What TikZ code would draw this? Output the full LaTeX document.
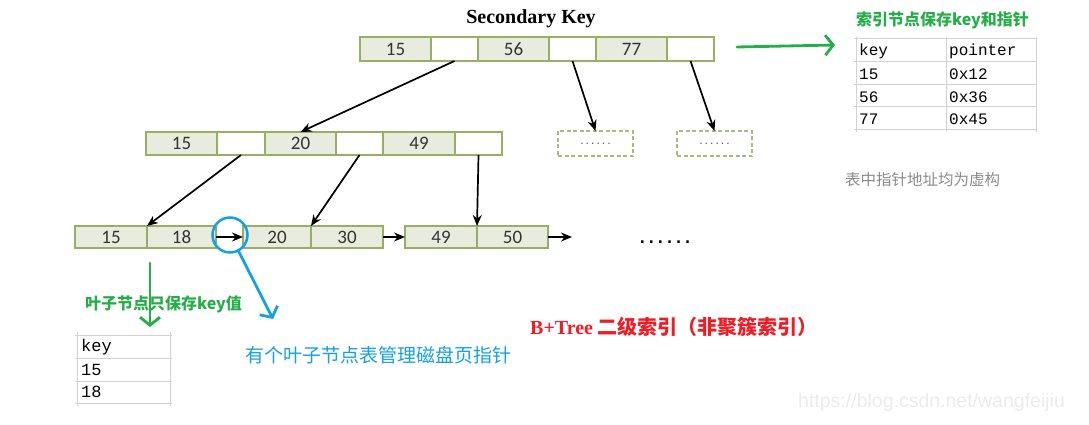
\documentclass[tikz,border=0pt]{standalone}
\usepackage{fontspec}
\setmainfont{Carlito}
\newfontfamily\serifb{Liberation Serif}
\newfontfamily\mono{Liberation Mono}
\newfontfamily\dmono{DejaVu Sans Mono}
\newfontfamily\cjk{Noto Sans CJK SC}
\newfontfamily\wm{Liberation Sans}
\usetikzlibrary{arrows.meta}
\definecolor{cellfill}{HTML}{E8ECDF}
\definecolor{cellline}{HTML}{98AE62}
\definecolor{dashline}{HTML}{A9BA7E}
\definecolor{mygreen}{HTML}{25AD48}
\definecolor{myblue}{HTML}{14A0E2}
\definecolor{myred}{HTML}{EE1C24}
\definecolor{mygray}{HTML}{8A8A8A}
\definecolor{grid}{HTML}{D2D2D2}
\definecolor{wmgray}{HTML}{EBEBEB}
\tikzset{
  cellbase/.style={draw=cellline, line width=1.6pt, inner sep=0pt, outer sep=0pt,
    anchor=north west, font=\fontsize{19}{21}\selectfont, text=black!80},
  keycell/.style={cellbase, fill=cellfill},
  ptrcell/.style={cellbase, fill=white},
  dashbox/.style={draw=dashline, line width=1.7pt, dash pattern=on 4pt off 2.5pt,
    inner sep=0pt, outer sep=0pt, anchor=north west, minimum width=75pt,
    minimum height=25pt, font=\dmono\fontsize{9}{11}\selectfont, text=black!70},
  ptrarrow/.style={line width=1.7pt, -{Stealth[length=11pt,width=9pt]}},
  handarrow/.style={line width=2.8pt, line cap=round, -{Straight Barb[length=8pt,width=20pt]}},
  gridline/.style={draw=grid, line width=1pt},
  tabtext/.style={anchor=west, inner sep=0pt, font=\mono\fontsize{16}{18}\selectfont},
}
\begin{document}
\begin{tikzpicture}[x=1pt,y=-1pt]
\useasboundingbox (0,0) rectangle (1089,425);

% title
\node[font=\serifb\bfseries\fontsize{20}{22}\selectfont] (title) at (531,19) {Secondary Key};

% top row
\node[keycell, minimum width=71pt, minimum height=24pt] (t1) at (360,37) {15};
\node[ptrcell, minimum width=47pt, minimum height=24pt] (t2) at (431,37) {};
\node[keycell, minimum width=71pt, minimum height=24pt] (t3) at (478,37) {56};
\node[ptrcell, minimum width=47pt, minimum height=24pt] (t4) at (549,37) {};
\node[keycell, minimum width=71pt, minimum height=24pt] (t5) at (596,37) {77};
\node[ptrcell, minimum width=47pt, minimum height=24pt] (t6) at (667,37) {};

% middle row
\node[keycell, minimum width=71pt, minimum height=23pt] (m1) at (146,132) {15};
\node[ptrcell, minimum width=48pt, minimum height=23pt] (m2) at (217,132) {};
\node[keycell, minimum width=71pt, minimum height=23pt] (m3) at (265,132) {20};
\node[ptrcell, minimum width=47pt, minimum height=23pt] (m4) at (336,132) {};
\node[keycell, minimum width=72pt, minimum height=23pt] (m5) at (383,132) {49};
\node[ptrcell, minimum width=47pt, minimum height=23pt] (m6) at (455,132) {};

% dashed boxes
\node[dashbox] (d1) at (558,131) {......};
\node[dashbox] (d2) at (677,131) {......};

% leaves
\node[keycell, minimum width=72pt, minimum height=22pt] (l1) at (75,226) {15};
\node[keycell, minimum width=69pt, minimum height=22pt] (l2) at (147,226) {18};
\node[keycell, minimum width=68pt, minimum height=22pt] (l3) at (243,226) {20};
\node[keycell, minimum width=72pt, minimum height=22pt] (l4) at (311,226) {30};
\node[keycell, minimum width=72pt, minimum height=22pt] (l5) at (405,226) {49};
\node[keycell, minimum width=71pt, minimum height=22pt] (l6) at (477,226) {50};
\coordinate (lend) at (572,237);
\node[font=\dmono\bfseries\fontsize{15}{17}\selectfont, inner sep=0pt] (more) at (665,242) {......};

% tree arrows
\draw[ptrarrow] (t2.south) -- (m3.north);
\draw[ptrarrow] (t4.south) -- (d1.north);
\draw[ptrarrow] (t6.south) -- (d2.north);
\draw[ptrarrow] (m2.south) -- (l1.north east);
\draw[ptrarrow] (m4.south) -- (l3.north east);
\draw[ptrarrow] (m6.south) -- (l5.north east);
\draw[ptrarrow] (l2.east) -- (l3.west);
\draw[ptrarrow] (l4.east) -- (l5.west);
\draw[ptrarrow] (l6.east) -- (lend);

% blue circle and arrow
\node[draw=myblue, line width=2.5pt, circle, minimum size=35pt, inner sep=0pt] (circ) at (230,235) {};
\coordinate (blueend) at (273,319);
\draw[handarrow, draw=myblue] (circ.-62) -- (blueend);

% green arrows
\coordinate (gdown1) at (150,263);
\coordinate (gdown2) at (150,327);
\draw[handarrow, draw=mygreen] (gdown1) -- (gdown2);
\coordinate (gright1) at (737,47);
\coordinate (gright2) at (835,45);
\draw[handarrow, draw=mygreen] (gright1) -- (gright2);

% right table
\foreach \yy in {39,62,85,107,130} \draw[gridline] (854,\yy) -- (1037,\yy);
\foreach \xx in {856,946,1036} \draw[gridline] (\xx,37) -- (\xx,132);
\node[tabtext] (rk) at (859,51) {key};
\node[tabtext] (rp) at (949,51) {pointer};
\node[tabtext] (r1a) at (859,74) {15};
\node[tabtext] (r1b) at (949,74) {0x12};
\node[tabtext] (r2a) at (859,97) {56};
\node[tabtext] (r2b) at (949,97) {0x36};
\node[tabtext] (r3a) at (859,119) {77};
\node[tabtext] (r3b) at (949,119) {0x45};

% left table
\foreach \yy in {335,358,381,403} \draw[gridline] (75,\yy) -- (172,\yy);
\foreach \xx in {77,170} \draw[gridline] (\xx,332) -- (\xx,406);
\node[tabtext, font=\mono\fontsize{17}{19}\selectfont] (lk) at (81,347) {key};
\node[tabtext, font=\mono\fontsize{17}{19}\selectfont] (l15) at (81,370) {15};
\node[tabtext, font=\mono\fontsize{17}{19}\selectfont] (l18) at (81,392) {18};

% captions
\node[anchor=west, inner sep=0pt, text=mygreen, font=\cjk\bfseries\fontsize{16}{18}\selectfont] (cap1) at (856,20) {索引节点保存key和指针};
\node[anchor=west, inner sep=0pt, text=mygray, font=\cjk\fontsize{15.5}{18}\selectfont] (cap2) at (845,180) {表中指针地址均为虚构};
\node[anchor=west, inner sep=0pt, text=mygreen, font=\cjk\bfseries\fontsize{16}{18}\selectfont] (cap3) at (85,304) {叶子节点只保存key值};
\node[anchor=west, inner sep=0pt, text=myblue, font=\cjk\fontsize{19}{22}\selectfont] (cap4) at (245,355) {有个叶子节点表管理磁盘页指针};
\node[anchor=west, inner sep=0pt, text=myred, font=\cjk\bfseries\fontsize{20}{22}\selectfont] (cap5) at (530,327) {{\serifb\bfseries B+Tree} 二级索引（非聚簇索引）};
\node[anchor=west, inner sep=0pt, text=wmgray, font=\wm\fontsize{19.5}{22}\selectfont] (wmark) at (798,402) {https://blog.csdn.net/wangfeijiu};
\end{tikzpicture}
\end{document}
